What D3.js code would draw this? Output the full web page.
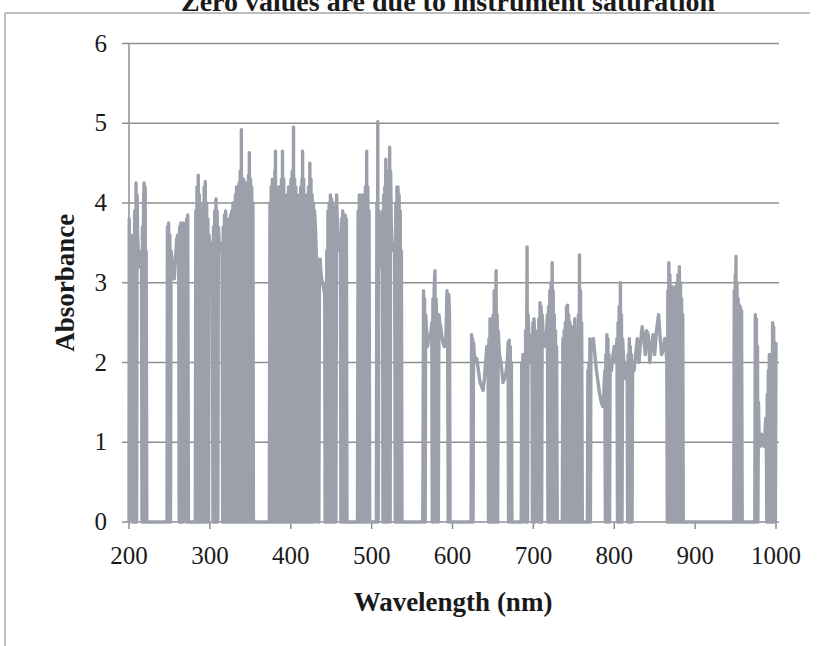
<!DOCTYPE html>
<html>
<head>
<meta charset="utf-8">
<script src="https://cdn.jsdelivr.net/npm/d3@7"></script>
<style>
  html, body { margin: 0; padding: 0; background: #ffffff; }
  #chart-container { width: 827px; height: 646px; overflow: hidden; }
</style>
</head>
<body>
<div id="chart-container"></div>
<script>
// absorbance spectrum as [wavelength nm, absorbance]
// zero runs are where the instrument saturated
const uvBandA = [
  [200,0],[200.3,3.8],[201,0],[201.5,3.6],[202.5,3.3],[203.5,3.35],[204.5,3.3],[205,0],[205.5,3.6],[206.3,0],
  [207,3.9],[207.8,0],[208.7,4.25],[209.4,0],[210,4.1],[210.6,3.6],[211.5,3.4],[213,3.2],[214.5,3.3],[215.5,3.4],
  [216,0],[216.6,3.7],[217.3,0],[218,4.0],[218.6,4.25],[219.3,0],[220,4.2],[220.6,0],[221.2,3.4],[222,0],
  [247,0],[247.5,3.7],[248.3,0],[249,3.75],[249.8,0],[250.5,3.6],[251.3,0],[252,3.4],[253,3.3],[254.5,3.1],
  [256,3.05],[257.5,3.3],[259,3.55],[260.5,3.6],[261.5,3.5],[262,0],[262.6,3.7],[263.3,0],[264,3.75],[264.7,0],
  [265.5,3.6],[266.3,0],[267,3.75],[268,3.5],[269,3.55],[270,3.7],[270.5,0],[271.2,3.8],[271.9,0],[272.6,3.85],[273.5,0]
];

const uvBandB = [
  [282,0],[282.6,3.9],[283.3,0],[284,4.2],[284.8,0],[285.6,4.35],[286.3,0],[287,4.1],[287.8,0],[288.5,3.9],
  [289.3,0],[290,3.8],[290.8,0],[291.5,4.0],[292.3,0],[293,4.2],[293.7,0],[294.3,4.27],[295,0],[296,4.0],
  [296.8,0],[297.5,3.8],[298.3,0],[299,3.6],[300,3.45],[301.5,3.4],[303,3.5],[303.8,0],[304.5,3.7],[305.3,0],
  [306,3.9],[306.8,0],[307.6,4.05],[308.3,0],[309,3.9],[309.8,0],[310.5,3.7],[311.5,3.5],[313,3.4],[315,3.5],
  [315.8,0],[316.5,3.7],[317.3,0],[318,3.85],[318.8,0],[319.5,3.9],[320.3,0],[321,3.8],[321.8,0],[322.5,3.7],
  [323.3,0],[324,3.8],[324.8,0],[325.5,3.85],[326.3,0],[327,3.9],[327.8,0],[328.5,4.0],[329.3,0],[330,4.0],
  [330.8,0],[331.5,4.1],[332.3,0],[333,4.2],[333.8,0],[334.5,4.2],[335.3,0],[336,4.25],[336.8,0],[337.5,4.4],
  [338.3,0],[338.9,4.92],[339.5,0],[340.3,4.2],[341,0],[341.8,4.3],[342.5,0],[343.3,4.2],[344,0],[344.8,4.25],
  [345.5,0],[346.3,4.2],[347,0],[347.8,4.35],[348.3,0],[348.8,4.63],[349.5,0],[350.3,4.3],[351,0],[351.8,4.2],
  [352.5,0],[353.2,4.0],[353.8,0]
];

const uvBandC = [
  [373.5,0],[374.3,4.0],[375,0],[375.8,4.2],[376.5,0],[377.3,4.3],[378,0],[378.8,4.3],[379.5,0],[380.3,4.4],
  [380.7,0],[381.1,4.65],[381.8,0],[382.5,4.2],[383.3,0],[384,4.1],[384.8,0],[385.5,4.2],[386.3,0],[387,4.1],
  [387.8,0],[388.5,4.3],[389.3,0],[389.8,4.65],[390.5,0],[391.3,4.3],[392,0],[392.8,4.1],[393.5,0],[394.3,4.0],
  [395,0],[395.8,4.1],[396.5,0],[397.3,4.2],[398,0],[398.8,4.1],[399.5,0],[400.3,4.3],[401,0],[401.8,4.4],
  [402.6,0],[403.4,4.95],[404,0],[404.8,4.3],[405.5,0],[406.3,4.2],[407,0],[407.8,4.1],[408.5,0],[409.3,4.0],
  [410,0],[410.8,4.1],[411.5,0],[412.3,4.2],[413,0],[413.8,4.3],[414.3,0],[414.6,4.65],[415.3,0],[416,4.3],
  [416.8,0],[417.5,4.1],[418.3,0],[419,4.0],[419.8,0],[420.5,4.1],[421.3,0],[422,4.2],[422.8,0],[423.6,4.5],
  [424.3,0],[425,4.3],[425.8,0],[426.5,4.1],[427.3,0],[428,4.0],[428.8,0],[429.5,3.9],[430.5,3.7],[431.5,3.4],
  [432.5,3.1],[433,0],[434,3.1],[434.7,0],[435.5,3.2],[436.3,3.3],[437.5,3.1],[439,3.0],[440.5,2.95],[442,2.85],
  [442.5,0],[443.2,3.0],[443.8,0],[444.5,3.4],[445.3,0],[446,3.9],[446.8,0],[447.5,4.0],[448.3,0],[449,4.1],
  [449.8,0],[450.5,4.05],[451.3,0],[452,4.0],[452.8,0],[453.5,3.9],[454.3,0],[455,3.95],[455.8,0],[456.7,4.1],
  [457.5,3.8],[459,3.5],[460.5,3.4],[461.5,3.6],[462,0],[462.8,3.8],[463.5,0],[464.2,3.9],[465,0],[465.8,3.85],
  [466.5,0],[467.3,3.85],[468,0],[468.8,3.8],[469.5,0]
];

const visBandA = [
  [482.5,0],[483.3,3.9],[484,0],[484.8,4.1],[485.5,0],[486.3,4.1],[487,0],[487.8,4.05],[488.5,0],[489.3,4.1],
  [490,0],[490.8,4.05],[491.5,0],[492.3,4.2],[493,0],[493.9,4.65],[494.6,0],[495.3,4.2],[496,0],[496.8,3.9],
  [497.6,0],[505.8,0],[506.5,4.0],[507.1,0],[507.6,5.02],[508.2,0],[509,3.9],[510.5,3.2],[512,3.3],[513.5,3.9],
  [514,0],[514.8,4.1],[515.5,0],[516.3,4.2],[516.9,0],[517.5,4.55],[518.2,0],[519,4.3],[519.7,0],[520.4,4.4],
  [521.1,0],[522.3,4.7],[522.9,0],[523.5,4.4],[524.2,3.8],[525.5,3.4],[527,3.5],[528.5,3.4],[529.2,0],[529.9,4.0],
  [530.6,0],[531.3,4.2],[532,0],[532.6,4.2],[533.3,0],[534,4.1],[534.7,0],[535.4,3.9],[536.1,0],[536.8,3.4],[537.5,0]
];

const visBandB = [
  [563.3,0],[564.2,2.9],[564.8,0],[565.5,2.8],[566.2,0],[566.8,2.6],[568,2.4],[569.2,2.2],[571,2.35],[572.8,2.3],
  [574.4,2.5],[575,0],[575.8,2.8],[576.5,0],[577.3,2.9],[578.3,3.15],[579,0],[579.7,2.8],[580.4,2.55],[581,0],
  [581.7,2.5],[582.4,0],[583.2,2.6],[584.2,2.5],[585.4,2.45],[586.5,2.35],[588.2,2.25],[590,2.2],[591.8,2.3],[592.6,2.6],
  [593.2,2.9],[594,2.5],[594.7,0],[595.4,2.85],[596.3,2.6],[597,0],
  [623,0],[623.6,2.35],[624.2,0],[624.8,2.3],[625.4,0],[626,2.25],[627,2.1],[628.5,2.0],[630,2.05],[632,1.9],
  [634,1.75],[636,1.7],[637.8,1.65],[639.5,1.8],[641,2.0],[642.5,2.2],[644,2.15],[644.5,0],[645.1,2.3],[645.7,0],
  [646.4,2.55],[647,0],[647.7,2.4],[648.3,0],[649,2.5],[649.6,0],[650.3,2.6],[650.9,0],[651.6,2.9],[652.2,0],
  [653.9,3.15],[654.5,0],[655.2,2.6],[655.8,0],[656.5,2.4],[658,2.1],[660,2.0],[662.5,1.75],[664.5,1.8],[666.5,1.9],
  [668,2.05],[668.8,2.25],[669.3,0],[670.1,2.28],[670.7,0],[671.4,2.2],[672,0],[672.8,2.0],[673.5,0]
];

const visBandC = [
  [685,0],[685.6,2.0],[686.3,0],[687,2.1],[688,1.9],[689,2.0],[689.7,0],[690.4,2.4],[691,0],[692.2,3.45],
  [692.8,0],[693.5,2.6],[694.5,2.3],[695.5,2.1],[696.5,2.0],[697.5,2.2],[698.3,2.35],[698.8,0],[699.4,2.5],[700,0],
  [700.7,2.55],[701.5,2.4],[702,0],[702.6,2.3],[703.6,2.2],[704.6,2.3],[705.6,2.4],[706.1,0],[706.8,2.55],[707.4,0],
  [708.2,2.75],[708.8,0],[709.6,2.7],[710.2,0],[710.9,2.6],[712.2,2.3],[713.6,2.2],[715,2.3],[716.4,2.4],[717.4,2.6],
  [718,0],[718.8,2.7],[719.5,0],[720.3,2.9],[721,0],[721.8,3.0],[722.4,0],[723.2,3.25],[723.8,0],[724.5,2.9],
  [725.2,0],[725.9,2.6],[726.6,0],[727.3,2.4],[728,0],[728.7,2.2],[729.5,0],
  [735.8,0],[736.5,2.3],[737.3,0],[738,2.4],[738.8,0],[739.5,2.5],[740.3,0],[741,2.7],[741.6,0],[742.2,2.72],
  [743,0],[743.7,2.6],[744.5,0],[745.2,2.5],[746,0],[746.7,2.45],[747.5,0],[748.2,2.4],[749,0],[749.7,2.45],
  [750.5,0],[751.2,2.55],[752,0],[752.7,2.4],[753.5,0],[754.2,2.3],[755,0],[755.7,2.6],[756.4,0],[757,3.35],
  [757.6,0],[758.3,2.9],[759,0],[759.7,2.5],[760.5,0]
];

const nirBandA = [
  [766.8,0],[767.4,1.9],[768,0],[768.6,2.0],[769.2,0],[769.9,2.3],[770.5,0],[771.2,2.25],[772.6,2.15],[774.2,2.3],
  [776,2.1],[778,1.9],[780,1.75],[782,1.6],[784,1.5],[785.5,1.45],[787,1.6],[788.4,1.9],[789,0],[789.6,2.1],
  [790.2,0],[790.9,2.35],[791.5,0],[792.2,2.3],[792.8,0],[793.5,2.1],[794.2,0],[794.9,2.0],[796.5,1.9],[798,2.05],
  [800,2.2],[801.8,2.0],[803.4,2.3],[804,0],[804.7,2.5],[805.3,0],[806,2.7],[806.7,0],[807.6,3.0],[808.2,0],
  [808.9,2.6],[809.6,0],[810.3,2.3],[811.8,2.0],[813.2,1.8],[814.8,1.95],[816,2.0],[816.5,0],[817.2,2.1],[817.8,0],
  [818.6,2.3],[819.2,0],[819.9,2.2],[820.5,0],[821.2,2.1],[822,0],[822.7,2.0],[824.5,1.9],[826.5,2.1],[828.5,2.3],
  [830.5,2.0],[832.5,2.25],[834.5,2.45],[836.5,2.3],[838.5,2.1],[840,2.4],[842,2.35],[844,2.0],[846,2.2],[848,2.35],
  [850,2.1],[852.2,2.4],[854.8,2.6],[856.8,2.3],[858.6,2.1],[860.5,2.15],[862.5,2.3],[864,2.2],[865,2.0],[865.6,0],
  [866.3,2.9],[866.9,0],[867.5,3.25],[868.1,0],[868.8,3.1],[869.5,0],[870.2,2.9],[870.9,0],[871.6,2.95],[872.3,0],
  [873,2.9],[873.7,0],[874.5,2.9],[875.2,0],[875.9,2.95],[876.6,0],[877.3,3.0],[878,0],[878.7,3.1],[879.4,0],
  [880.5,3.2],[881.2,0],[881.9,3.0],[882.6,0],[883.3,2.8],[884,0],[884.7,2.6],[885.3,0]
];

const nirBandB = [
  [947.8,0],[948.4,2.9],[949,0],[949.6,3.1],[950.1,0],[950.5,3.33],[951.1,0],[951.8,3.0],[952.5,0],[953.2,2.8],
  [953.9,0],[954.6,2.72],[955.3,0],[956,2.7],[956.7,0],[957.4,2.65],[958.2,0],[958.9,0],
  [973.8,0],[974.4,2.6],[975,0],[975.7,2.55],[976.4,0],[977.1,2.2],[977.6,0],[978.3,1.5],[979.2,1.0],[980.6,0.95],
  [982,1.1],[983.5,1.0],[985,0.95],[986.3,1.1],[987.3,1.3],[988,1.2],[988.6,0],[989.2,1.6],[989.8,0],[990.5,1.9],
  [991.1,0],[991.8,2.1],[992.4,0],[993.1,2.0],[993.7,0],[994.4,2.1],[995,0],[995.8,2.5],[996.4,0],[997.1,2.45],
  [997.8,0],[998.5,2.25],[999.2,0],[1000,2.25]
];

const xTicks = [200, 300, 400, 500, 600, 700, 800, 900, 1000];
const yTicks = [0, 1, 2, 3, 4, 5, 6];

const chartTitle = "Zero values are due to instrument saturation";
const xTitle = "Wavelength (nm)";
const yTitle = "Absorbance";

const spectrum = [].concat(uvBandA, uvBandB, uvBandC, visBandA, visBandB, visBandC, nirBandA, nirBandB);

const width = 827;
const height = 646;
const margin = { top: 43.5, right: 51, bottom: 124, left: 129 };

drawChart();

function drawChart() {
  d3.select("#chart-container").select("svg").remove();

  const svg = d3
    .select("#chart-container")
    .append("svg")
    .attr("width", width)
    .attr("height", height);

  const x = d3.scaleLinear().domain([200, 1000]).range([margin.left, width - margin.right]);
  const y = d3.scaleLinear().domain([0, 6]).range([height - margin.bottom, margin.top]);

  // outer chart-area frame (only top and left edge show in the scan)
  svg.append("line")
    .attr("x1", 5).attr("x2", 810).attr("y1", 13).attr("y2", 13)
    .style("stroke", "#a8a8a8").style("stroke-width", 1.5);
  svg.append("line")
    .attr("x1", 5).attr("x2", 5).attr("y1", 13).attr("y2", height)
    .style("stroke", "#a8a8a8").style("stroke-width", 1.5);

  // title, clipped at the top edge like the scan
  svg.append("text")
    .attr("x", 448)
    .attr("y", 11)
    .attr("text-anchor", "middle")
    .style("font-family", "'Liberation Serif', serif")
    .style("font-weight", "bold")
    .style("font-size", "28px")
    .style("fill", "#1a1a1a")
    .text(chartTitle);

  // horizontal gridlines
  svg.append("g")
    .selectAll("line")
    .data(yTicks)
    .enter()
    .append("line")
    .attr("x1", margin.left - 7)
    .attr("x2", width - margin.right + 3)
    .attr("y1", (d) => y(d))
    .attr("y2", (d) => y(d))
    .style("stroke", "#8f8f8f")
    .style("stroke-width", 1.5);

  // y axis line
  svg.append("line")
    .attr("x1", margin.left).attr("x2", margin.left)
    .attr("y1", y(6)).attr("y2", y(0))
    .style("stroke", "#8f8f8f").style("stroke-width", 1.5);

  // x tick marks
  svg.append("g")
    .selectAll("line")
    .data(xTicks)
    .enter()
    .append("line")
    .attr("x1", (d) => x(d))
    .attr("x2", (d) => x(d))
    .attr("y1", y(0))
    .attr("y2", y(0) + 7)
    .style("stroke", "#8f8f8f")
    .style("stroke-width", 1.5);

  // spectrum line
  const lineGenerator = d3
    .line()
    .x((d) => x(d[0]))
    .y((d) => y(d[1]));

  svg.append("path")
    .datum(spectrum)
    .attr("d", lineGenerator)
    .style("fill", "none")
    .style("stroke", "#9ba0aa")
    .style("stroke-width", 3.4)
    .style("stroke-linejoin", "round");

  const tickFont = "'Liberation Serif', serif";

  // y tick labels
  svg.append("g")
    .selectAll("text")
    .data(yTicks)
    .enter()
    .append("text")
    .attr("x", 107)
    .attr("y", (d) => y(d) + 8)
    .attr("text-anchor", "end")
    .style("font-family", tickFont)
    .style("font-size", "25px")
    .style("fill", "#1a1a1a")
    .text((d) => d);

  // x tick labels
  svg.append("g")
    .selectAll("text")
    .data(xTicks)
    .enter()
    .append("text")
    .attr("x", (d) => x(d))
    .attr("y", 564)
    .attr("text-anchor", "middle")
    .style("font-family", tickFont)
    .style("font-size", "25px")
    .style("fill", "#1a1a1a")
    .text((d) => d);

  // axis titles
  svg.append("text")
    .attr("x", 453)
    .attr("y", 611)
    .attr("text-anchor", "middle")
    .style("font-family", tickFont)
    .style("font-weight", "bold")
    .style("font-size", "27px")
    .style("fill", "#1a1a1a")
    .text(xTitle);

  svg.append("text")
    .attr("transform", "translate(74," + y(3) + ") rotate(-90)")
    .attr("text-anchor", "middle")
    .style("font-family", tickFont)
    .style("font-weight", "bold")
    .style("font-size", "27px")
    .style("fill", "#1a1a1a")
    .text(yTitle);
}
</script>
</body>
</html>
